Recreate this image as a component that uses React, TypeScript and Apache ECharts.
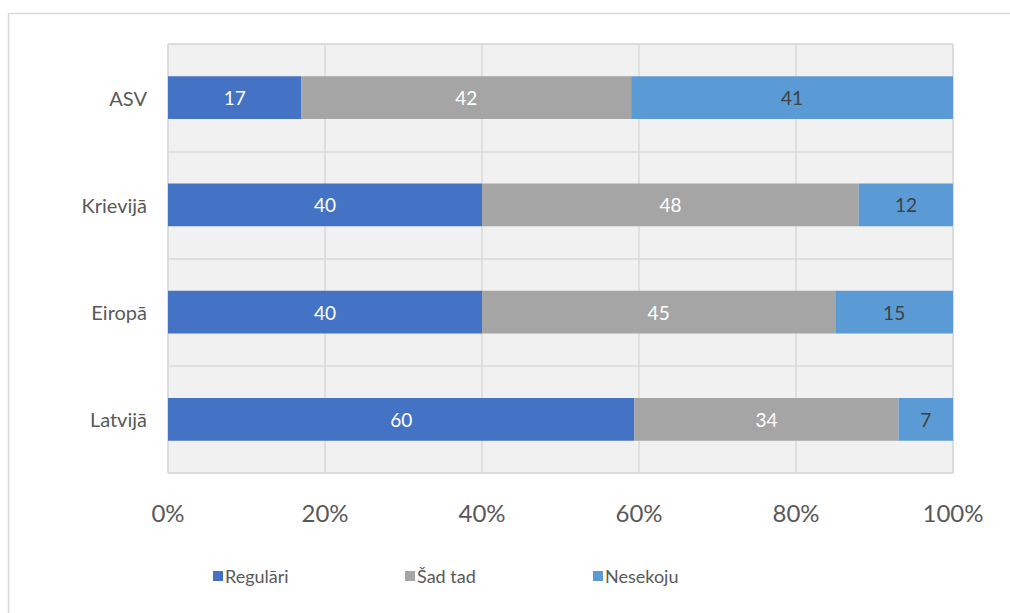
import React, { useEffect, useRef } from "react";
import * as echarts from "echarts";

const categories = ["ASV", "Krievijā", "Eiropā", "Latvijā"];
const seriesNames = ["Regulāri", "Šad tad", "Nesekoju"];
const regulari = [17, 40, 40, 60];
const sadTad = [42, 48, 45, 34];
const nesekoju = [41, 12, 15, 7];
const xTicks = [0, 20, 40, 60, 80, 100];

const colors = ["#4472C4", "#A5A5A5", "#5B9BD5"];
const labelColors = ["#ffffff", "#ffffff", "#404040"];
const legendLefts = [213, 405, 593];
const FONT = "Lato";

export default function App() {
  const ref = useRef<HTMLDivElement>(null);
  useEffect(() => {
    if (!ref.current) return;
    const chart = echarts.init(ref.current, null, { renderer: "svg" });
    const raw = [regulari, sadTad, nesekoju];
    const totals = categories.map((_, i) => raw.reduce((s, arr) => s + arr[i], 0));
    chart.setOption({
      animation: false,
      textStyle: { fontFamily: FONT },
      graphic: [
        {
          type: "rect",
          shape: { x: 8.5, y: 13.5, width: 1100, height: 700 },
          style: { fill: "none", stroke: "#d9d9d9", lineWidth: 1.5 },
          silent: true,
          z: -10,
        },
      ],
      legend: seriesNames.map((name, i) => ({
        data: [name],
        left: legendLefts[i],
        top: 567,
        padding: 0,
        itemWidth: 10,
        itemHeight: 10,
        icon: "rect",
        textStyle: { fontFamily: FONT, fontSize: 18, color: "#595959", padding: [0, 0, 0, -3] },
      })),
      grid: {
        left: 168,
        right: 57,
        top: 44,
        bottom: 140,
        show: true,
        backgroundColor: "#f1f1f1",
        borderColor: "#d9d9d9",
        borderWidth: 1,
      },
      xAxis: {
        type: "value",
        min: xTicks[0],
        max: xTicks[xTicks.length - 1],
        interval: 20,
        axisLine: { show: false },
        axisTick: { show: false },
        splitLine: { show: true, lineStyle: { color: "#d9d9d9", width: 1.5 } },
        axisLabel: {
          formatter: "{value}%",
          fontFamily: FONT,
          fontSize: 24,
          color: "#595959",
          margin: 27,
        },
      },
      yAxis: {
        type: "category",
        data: categories,
        inverse: true,
        axisLine: { show: false },
        axisTick: { show: false },
        splitLine: { show: true, lineStyle: { color: "#d9d9d9", width: 1.5 } },
        axisLabel: { fontFamily: FONT, fontSize: 20, color: "#595959", margin: 21 },
      },
      series: seriesNames.map((name, si) => ({
        name,
        type: "bar",
        stack: "total",
        barWidth: "40%",
        itemStyle: { color: colors[si] },
        label: {
          show: true,
          position: "inside",
          color: labelColors[si],
          fontFamily: FONT,
          fontSize: 19,
          formatter: (p: any) => String(raw[si][p.dataIndex]),
        },
        data: raw[si].map((v, i) => (v / totals[i]) * 100),
      })),
    });
    return () => chart.dispose();
  }, []);
  return (
    <div
      ref={ref}
      style={{ position: "absolute", left: 0, top: 0, width: 1010, height: 613, background: "#fff" }}
    />
  );
}
